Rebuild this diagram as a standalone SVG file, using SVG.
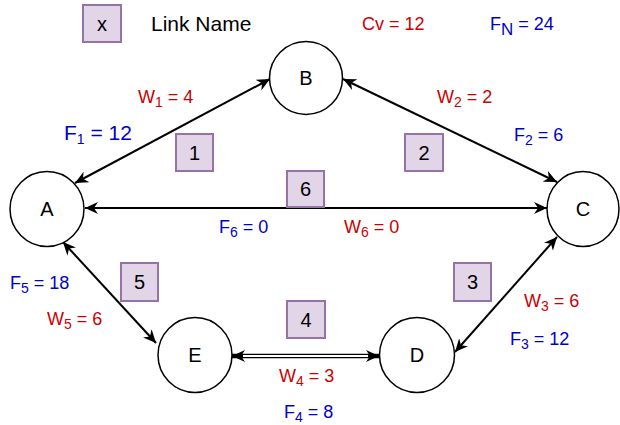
<svg xmlns="http://www.w3.org/2000/svg" width="620" height="425" viewBox="0 0 620 425">
  <defs>
    <marker id="arrow" viewBox="0 0 14 12" refX="13" refY="6" markerWidth="14" markerHeight="12" markerUnits="userSpaceOnUse" orient="auto-start-reverse">
      <path d="M13,6 L0,0 L4,6 L0,12 Z" fill="#000"/>
    </marker>
  </defs>
  <style>
    text { font-family: "Liberation Sans", Arial, sans-serif; }
    .node ellipse { fill: #fff; stroke: #000; stroke-width: 1.5; }
    .node text { font-size: 20px; text-anchor: middle; fill: #000; }
    .tag rect { fill: #e1d5e7; stroke: #9673a6; stroke-width: 2; }
    .tag text { font-size: 20px; text-anchor: middle; fill: #000; }
    .edge { stroke: #000; stroke-width: 2; fill: none; marker-start: url(#arrow); marker-end: url(#arrow); }
    .double { stroke-width: 4.5; }
    .core { stroke: #fff; stroke-width: 2; }
    .w { fill: #cc0000; font-size: 18px; }
    .f { fill: #0000cc; font-size: 18px; }
    .big { font-size: 21px; }
    .sub { font-size: 14px; }
  </style>

  <!-- legend -->
  <g id="legend">
    <g class="tag"><rect x="83" y="5" width="38" height="37"/><text x="102" y="31">x</text></g>
    <text x="151" y="31" font-size="21">Link Name</text>
    <text class="w" x="362" y="30">Cv = 12</text>
    <text class="f" x="490" y="30">F<tspan font-size="17" dy="5">N</tspan><tspan dy="-5"> = 24</tspan></text>
  </g>

  <!-- connectors -->
  <g id="connectors">
    <line class="edge" x1="75" y1="183" x2="270" y2="79"/>
    <line class="edge" x1="343" y1="79" x2="557" y2="182"/>
    <line class="edge" x1="85" y1="208" x2="547" y2="208"/>
    <line class="edge" x1="63" y1="242" x2="156" y2="343"/>
    <line class="edge" x1="557" y1="237" x2="455" y2="352"/>
    <line class="edge double" x1="232" y1="356" x2="379" y2="356"/>
    <line class="core" x1="243" y1="356" x2="368" y2="356"/>
  </g>

  <!-- link labels -->
  <g id="link-1">
    <g class="tag"><rect x="176" y="134" width="37" height="37"/><text x="194.5" y="160">1</text></g>
    <text class="w" x="138" y="103">W<tspan class="sub" dy="4">1</tspan><tspan dy="-4"> = 4</tspan></text>
    <text class="f big" x="64" y="140">F<tspan class="sub" dy="4">1</tspan><tspan dy="-4"> = 12</tspan></text>
  </g>
  <g id="link-2">
    <g class="tag"><rect x="405" y="134" width="38" height="37"/><text x="424" y="160">2</text></g>
    <text class="w" x="437" y="103">W<tspan class="sub" dy="4">2</tspan><tspan dy="-4"> = 2</tspan></text>
    <text class="f" x="514" y="141">F<tspan class="sub" dy="4">2</tspan><tspan dy="-4"> = 6</tspan></text>
  </g>
  <g id="link-3">
    <g class="tag"><rect x="454" y="263" width="37" height="38"/><text x="472.5" y="289">3</text></g>
    <text class="w" x="524" y="307">W<tspan class="sub" dy="4">3</tspan><tspan dy="-4"> = 6</tspan></text>
    <text class="f" x="510" y="345">F<tspan class="sub" dy="4">3</tspan><tspan dy="-4"> = 12</tspan></text>
  </g>
  <g id="link-4">
    <g class="tag"><rect x="287" y="301" width="38" height="37"/><text x="306" y="327">4</text></g>
    <text class="w" x="279" y="382">W<tspan class="sub" dy="4">4</tspan><tspan dy="-4"> = 3</tspan></text>
    <text class="f" x="284" y="418">F<tspan class="sub" dy="4">4</tspan><tspan dy="-4"> = 8</tspan></text>
  </g>
  <g id="link-5">
    <g class="tag"><rect x="121" y="263" width="37" height="38"/><text x="139.5" y="289">5</text></g>
    <text class="w" x="47" y="325">W<tspan class="sub" dy="4">5</tspan><tspan dy="-4"> = 6</tspan></text>
    <text class="f" x="10" y="289">F<tspan class="sub" dy="4">5</tspan><tspan dy="-4"> = 18</tspan></text>
  </g>
  <g id="link-6">
    <g class="tag"><rect x="287" y="171" width="37" height="36"/><text x="305.5" y="196">6</text></g>
    <text class="f" x="219" y="233">F<tspan class="sub" dy="4">6</tspan><tspan dy="-4"> = 0</tspan></text>
    <text class="w" x="344" y="233">W<tspan class="sub" dy="4">6</tspan><tspan dy="-4"> = 0</tspan></text>
  </g>

  <!-- nodes -->
  <g id="node-A" class="node"><ellipse cx="47" cy="209" rx="37" ry="37.5"/><text x="47" y="216">A</text></g>
  <g id="node-B" class="node"><ellipse cx="306" cy="78" rx="36.5" ry="36.5"/><text x="306" y="85">B</text></g>
  <g id="node-C" class="node"><ellipse cx="583" cy="209" rx="36" ry="37.5"/><text x="583" y="216">C</text></g>
  <g id="node-D" class="node"><ellipse cx="417" cy="355" rx="37.5" ry="37.5"/><text x="417" y="362">D</text></g>
  <g id="node-E" class="node"><ellipse cx="195" cy="355" rx="37" ry="37.5"/><text x="195" y="362">E</text></g>
</svg>
